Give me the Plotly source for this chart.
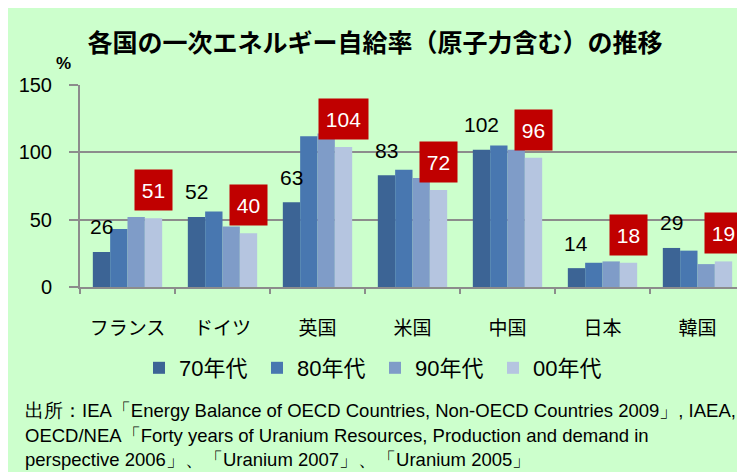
import plotly.graph_objects as go

categories = ["フランス", "ドイツ", "英国", "米国", "中国", "日本", "韓国"]
series_names = ["70年代", "80年代", "90年代", "00年代"]
v70 = [26, 52, 63, 83, 102, 14, 29]
v80 = [43, 56, 112, 87, 105, 18, 27]
v90 = [52, 45, 114, 81, 102, 19, 17]
v00 = [51, 40, 104, 72, 96, 18, 19]
y_ticks = [0, 50, 100, 150]
footnote_lines = [
    "出所：IEA「Energy Balance of OECD Countries, Non-OECD Countries 2009」, IAEA,",
    "OECD/NEA「Forty years of Uranium Resources, Production and demand in",
    "perspective 2006」、「Uranium 2007」、「Uranium 2005」",
]

colors = ["#3C6495", "#4877B0", "#7F9CC8", "#B5C5E0"]
BG = "#CCFFCC"
OFF = 8  # page body margin
W, H = 737, 464
ML, MR, MT, MB = 72, 0, 77, 185
PW = W - ML - MR
PH = H - MT - MB


def px_x(px):
    return (px - OFF - ML) / PW


def px_y(py):
    return (H - MB - (py - OFF)) / PH


fig = go.Figure()
for name, vals, c in zip(series_names, [v70, v80, v90, v00], colors):
    fig.add_trace(go.Bar(x=categories, y=vals, name=name, marker=dict(color=c, line=dict(width=0))))

bargap = 0.27
catw = PW / len(categories)
barw = catw * (1 - bargap) / 4
off = 1.5 * barw

ann = []
for cat, v in zip(categories, v70):
    ann.append(dict(x=cat, y=v, xref="x", yref="y", text=str(v), showarrow=False,
                    xshift=-off, yshift=25, yanchor="middle",
                    font=dict(family="Liberation Sans, Arial, sans-serif", size=21, color="black")))
for cat, v in zip(categories, v00):
    nd = len(str(v))
    ann.append(dict(x=cat, y=v, xref="x", yref="y", text=str(v), showarrow=False,
                    xshift=off, yshift=28, yanchor="middle",
                    width=12 * nd + 11, height=38, borderpad=1, bgcolor="#C00000",
                    font=dict(family="Liberation Sans, Arial, sans-serif", size=21, color="white")))
# percent unit
ann.append(dict(x=px_x(63), y=px_y(64), xref="paper", yref="paper",
                text="<b>%</b>", showarrow=False, xanchor="center", yanchor="middle",
                font=dict(family="Liberation Sans, Arial, sans-serif", size=17, color="black")))
# footnote
for line, py in zip(footnote_lines, [410, 435, 459]):
    ann.append(dict(x=px_x(23), y=px_y(py), xref="paper", yref="paper",
                    text=line, showarrow=False, xanchor="left", yanchor="middle", align="left",
                    font=dict(family="Liberation Sans, Arial, sans-serif", size=18.5, color="black")))

fig.update_layout(
    width=W, height=H,
    margin=dict(l=ML, r=MR, t=MT, b=MB, pad=0, autoexpand=False),
    paper_bgcolor=BG, plot_bgcolor=BG,
    barmode="group", bargap=bargap, bargroupgap=0,
    title=dict(text="<b>各国の一次エネルギー自給率（原子力含む）の推移</b>",
               x=(375 - OFF) / W, xanchor="center", y=1 - 35 / H, yanchor="middle",
               font=dict(family="Noto Sans CJK JP", size=25, color="black")),
    font=dict(family="Noto Sans CJK JP", color="black"),
    showlegend=True,
    legend=dict(orientation="h", x=px_x(139), xanchor="left", y=px_y(368),
                yanchor="middle", bgcolor="rgba(0,0,0,0)",
                entrywidth=73, entrywidthmode="pixels",
                font=dict(family="Liberation Sans, Noto Sans CJK JP", size=22, color="black")),
    xaxis=dict(type="category", tickson="boundaries", ticks="outside", ticklen=5, tickcolor="#8C8C8C",
               tickwidth=1.5, showline=True, linecolor="#8C8C8C", linewidth=2, showgrid=False,
               ticklabelstandoff=23,
               tickfont=dict(family="Noto Sans CJK JP", size=19, color="black")),
    yaxis=dict(range=[0, 150], tickvals=y_ticks, ticks="outside", ticklen=9, tickcolor="#8C8C8C",
               tickwidth=1.5, showline=True, linecolor="#8C8C8C", linewidth=2,
               showgrid=True, gridcolor="#8C8C8C", gridwidth=2, zeroline=False,
               ticklabelstandoff=13,
               tickfont=dict(family="Liberation Sans, Arial, sans-serif", size=20, color="black")),
    annotations=ann,
)

fig.write_html("out.html")
